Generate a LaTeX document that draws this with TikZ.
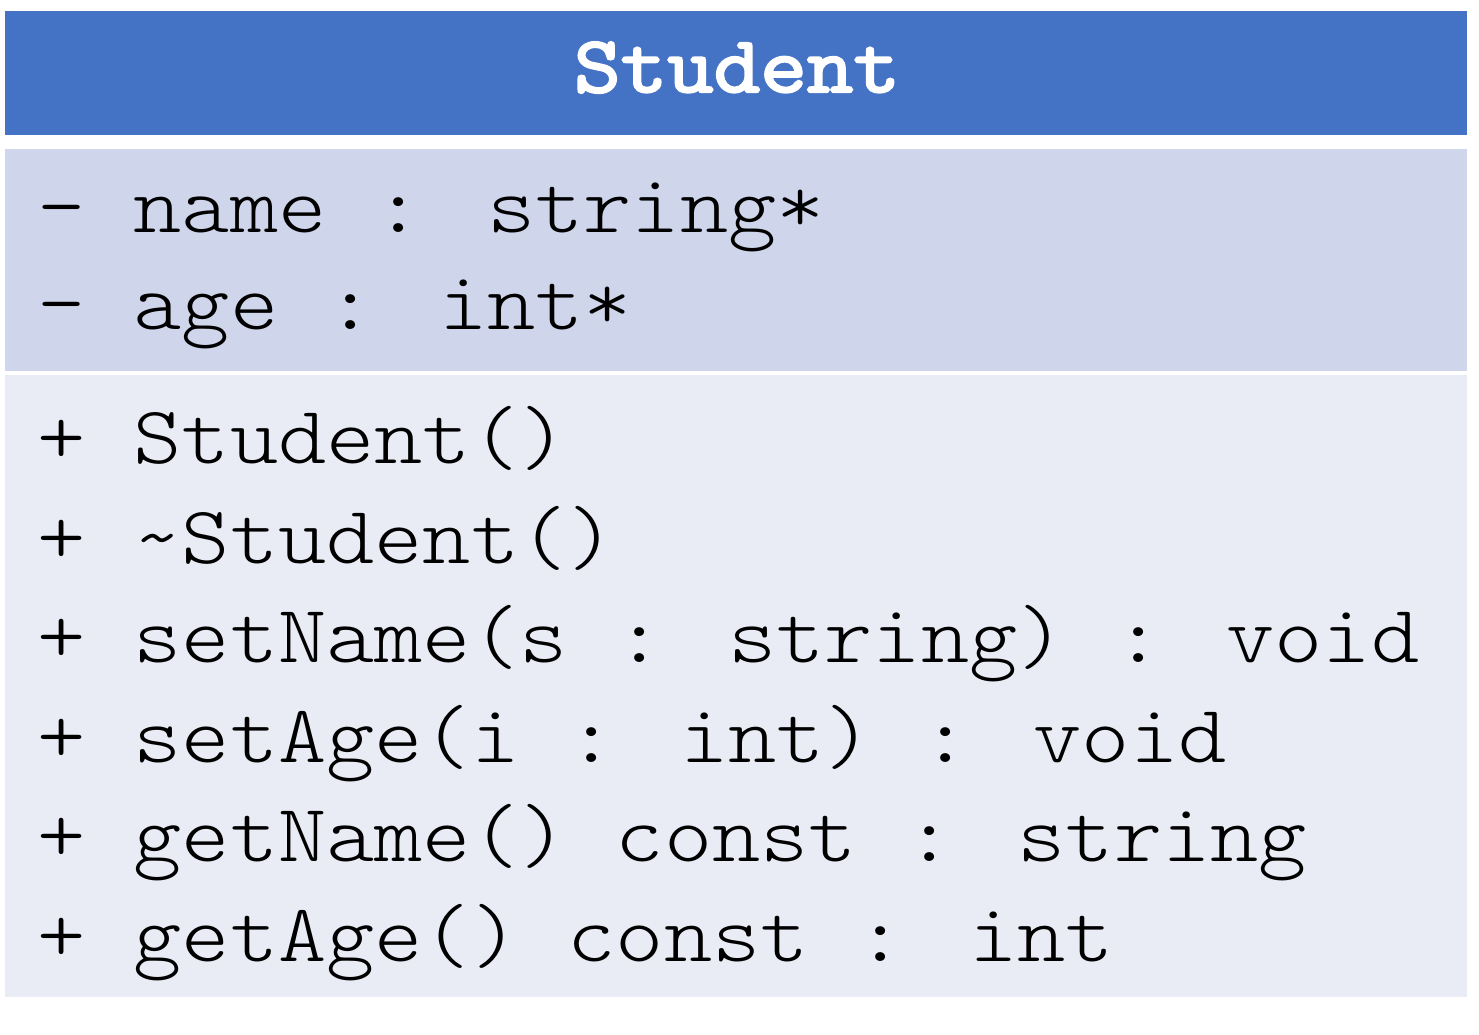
\documentclass[tikz,border=0pt]{standalone}
\usepackage{fontspec}
\newfontfamily\umlfont[FakeStretch=1.12]{Latin Modern Mono Light}
\newfontfamily\umltitlefont[FakeStretch=1.13, FakeBold=3]{Latin Modern Mono}
\definecolor{headblue}{HTML}{4472C4}
\definecolor{attrfill}{HTML}{CFD5EA}
\definecolor{methfill}{HTML}{E9EBF5}
\begin{document}
\begin{tikzpicture}[
        x=1pt, y=-1pt,
        band/.style={
            anchor=north west, inner sep=0, minimum width=1462pt
        },
        titletext/.style={
            text=white, font=\fontsize{80}{90}\selectfont\umltitlefont
        },
        member/.style={
            anchor=base west, inner sep=0, font=\fontsize{82}{100}\selectfont\umlfont
        }
    ]
    \useasboundingbox[fill=white] (0,0) rectangle (1479,1035);

    % compartments
    \node[band, fill=headblue, minimum height=124pt] (head) at (5,11) {};
    \node[band, fill=attrfill, minimum height=222pt] (attrs) at (5,149) {};
    \node[band, fill=methfill, minimum height=622pt] (meths) at (5,375) {};

    % class name
    \node[titletext, anchor=base] (cname) at (737,92) {Student};

    % attributes
    \node[member] (aname) at (37,232) {- name : string*};
    \node[member] (aage) at (37,329) {- age : int*};

    % methods
    \node[member] (mctor) at (37,463) {+ Student()};
    \node[member] (mdtor) at (37,563) {+ \char`\~Student()};
    \node[member] (msetn) at (37,662) {+ setName(s : string) : void};
    \node[member] (mseta) at (37,762) {+ setAge(i : int) : void};
    \node[member] (mgetn) at (37,861) {+ getName() const : string};
    \node[member] (mgeta) at (37,961) {+ getAge() const : int};
\end{tikzpicture}
\end{document}
